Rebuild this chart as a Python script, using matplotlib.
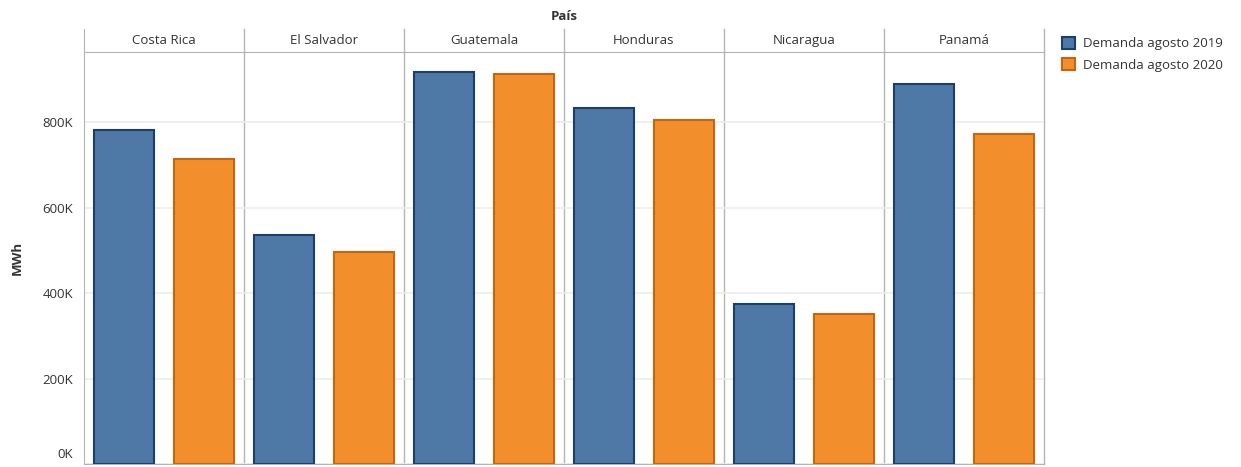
import numpy as np
import matplotlib
matplotlib.use("Agg")
import matplotlib.pyplot as plt
import matplotlib.transforms as mtransforms
from matplotlib.patches import Patch

# === Data ===
paises = ["Costa Rica", "El Salvador", "Guatemala", "Honduras", "Nicaragua", "Panamá"]
demanda_2019 = [781000, 536000, 917000, 834000, 375000, 889000]
demanda_2020 = [713000, 495000, 913000, 806000, 350000, 773000]
series = ["Demanda agosto 2019", "Demanda agosto 2020"]
yticks = [0, 200000, 400000, 600000, 800000]
ytick_labels = ["0K", "200K", "400K", "600K", "800K"]

plt.rcParams["font.family"] = ["Open Sans", "DejaVu Sans"]

fill = ["#4e79a7", "#f28e2b"]
edge = ["#1c3e6b", "#c9650f"]
line_col = "#b4b4b4"
text_col = "#333333"

W, H = 1241, 467
fig = plt.figure(figsize=(W / 100, H / 100), dpi=100)

left, right = 84 / W, 1044 / W
bottom, top = (H - 464) / H, (H - 52) / H
ax = fig.add_axes([left, bottom, right - left, top - bottom])
hdr = fig.add_axes([left, top, right - left, (52 - 29) / H])

n = len(paises)
x = np.arange(n) * 2
ax.bar(x, demanda_2019, width=0.75, color=fill[0], edgecolor=edge[0], linewidth=1.5, zorder=3)
ax.bar(x + 1, demanda_2020, width=0.75, color=fill[1], edgecolor=edge[1], linewidth=1.5, zorder=3)

ax.set_xlim(-0.5, 2 * n - 0.5)
ax.set_ylim(0, 964000)
ax.set_xticks([])
ax.set_yticks(yticks)
ax.set_yticklabels(ytick_labels, fontsize=9.5, color=text_col)
ax.tick_params(axis="y", length=0, pad=8)
# Tableau puts the zero label just above the baseline
zero_lbl = ax.get_yticklabels()[0]
zero_lbl.set_va("bottom")
zero_lbl.set_transform(zero_lbl.get_transform() +
                       mtransforms.ScaledTranslation(0, 2 / 72, fig.dpi_scale_trans))
ax.yaxis.grid(True, color="#ececec", linewidth=1.2, zorder=0)
ax.set_ylabel("MWh", fontsize=9.5, color=text_col, fontweight="bold")
ax.yaxis.set_label_coords(-(84 - 24) / 960, 0.5)

for s in ["top", "right"]:
    ax.spines[s].set_visible(False)
ax.spines["left"].set_color(line_col)
ax.spines["bottom"].set_color(line_col)

for i in range(1, n + 1):
    ax.axvline(2 * i - 0.5, color=line_col, linewidth=1, zorder=1, clip_on=False)

# header band
hdr.set_xlim(-0.5, 2 * n - 0.5)
hdr.set_ylim(0, 1)
hdr.set_xticks([])
hdr.set_yticks([])
for s in ["top", "right"]:
    hdr.spines[s].set_visible(False)
hdr.spines["left"].set_color(line_col)
hdr.spines["bottom"].set_color(line_col)
for i in range(n):
    hdr.text(2 * i + 0.5, 0.5, paises[i], ha="center", va="center", fontsize=9.5, color=text_col)
    hdr.axvline(2 * i + 1.5, color=line_col, linewidth=1, clip_on=False)

fig.text((left + right) / 2, 1 - 17 / H, "País", ha="center", va="center",
         fontsize=9.5, fontweight="bold", color=text_col)

handles = [Patch(facecolor=fill[k], edgecolor=edge[k], linewidth=1.5) for k in range(2)]
fig.legend(handles, series, loc="upper left", bbox_to_anchor=(1050 / W, 1 - 25 / H),
           frameon=False, fontsize=9.5, handlelength=1.0, handleheight=1.0,
           handletextpad=0.6, labelspacing=0.6, labelcolor=text_col)

fig.savefig("out.png", dpi=100)
